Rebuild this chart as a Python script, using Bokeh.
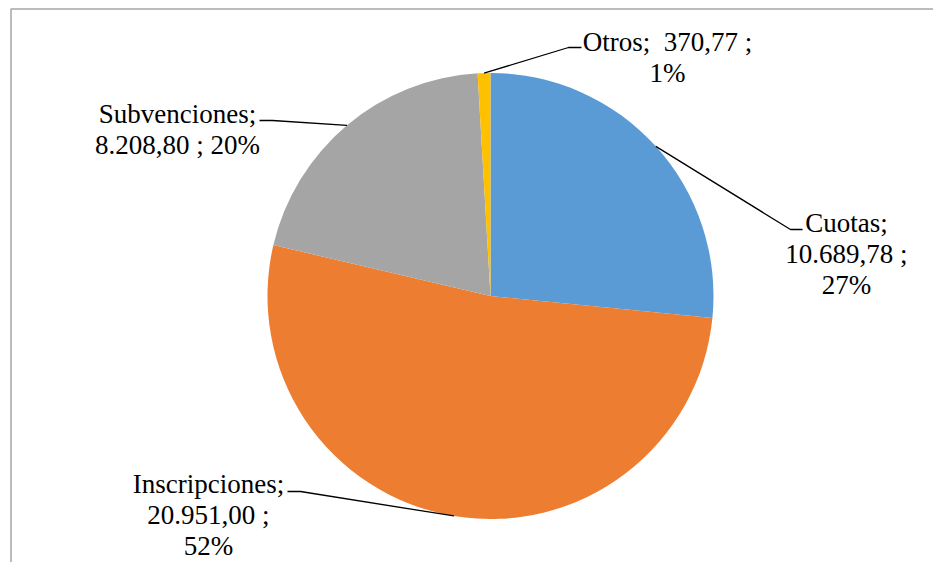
import math
from bokeh.plotting import figure
from bokeh.models import Range1d, ColumnDataSource
from bokeh.core.properties import value
from bokeh.embed import file_html
from bokeh.resources import INLINE

# ---- data ----
categories = ["Cuotas", "Inscripciones", "Subvenciones", "Otros"]
amounts = [10689.78, 20951.00, 8208.80, 370.77]
colors = ["#5B9BD5", "#ED7D31", "#A5A5A5", "#FFC000"]

# ---- layout (pixel coordinates, origin top-left of the figure) ----
W, H = 933, 562
def sy(y):
    return H - y

cx, cy, R = 490, 295.5, 223
label_x = [846, 208, 177, 667]
label_y0 = [222, 483, 113, 41]
line_h = 31.2
label_groups = [[[0], [1], [2]], [[0], [1], [2]], [[0], [1, 2]], [[0, 1], [2]]]
label_join = [" ", " ", " ", "\u00a0 "]
leader_elbow = [(790, 229), (300, 491), (272, 120), (568, 47)]
leader_end = [(802, 229), (287, 491), (259, 120), (581, 47)]

def fmt_es(v):
    s = f"{v:,.2f}"
    return s.replace(",", "X").replace(".", ",").replace("X", ".")

total = sum(amounts)
fracs = [a / total for a in amounts]

p = figure(width=W, height=H, output_backend="svg", toolbar_location=None,
           x_range=Range1d(0, W), y_range=Range1d(0, H),
           min_border=0, background_fill_color="white", border_fill_color="white")
p.axis.visible = False
p.grid.visible = False
p.outline_line_color = None

# frame (top and left edges visible)
p.line([10.5, 10.5, W + 5], [sy(H + 5), sy(8.5), sy(8.5)], line_color="#A6A6A6", line_width=1.5)

# wedges, clockwise from 12 o'clock
starts, ends, mids = [], [], []
cum = 0.0
for f in fracs:
    a0 = math.pi / 2 - cum * 2 * math.pi
    a1 = math.pi / 2 - (cum + f) * 2 * math.pi
    starts.append(a0)
    ends.append(a1)
    mids.append((a0 + a1) / 2)
    cum += f

src = ColumnDataSource(dict(start=starts, end=ends, color=colors, cat=categories, amt=amounts))
p.wedge(x=cx, y=sy(cy), radius=R, start_angle="start", end_angle="end", direction="clock",
        fill_color="color", line_color=None, source=src)

# leader lines
xs, ys = [], []
for i, m in enumerate(mids):
    x0 = cx + R * math.cos(m)
    y0 = cy - R * math.sin(m)
    ex, ey = leader_elbow[i]
    tx, ty = leader_end[i]
    xs.append([x0, ex, tx])
    ys.append([sy(y0), sy(ey), sy(ty)])
p.multi_line(xs, ys, line_color="black", line_width=1.3)

# labels
tx_, ty_, tt_ = [], [], []
for i, (c, a, f) in enumerate(zip(categories, amounts, fracs)):
    parts = [f"{c};", f"{fmt_es(a)} ;", f"{round(f * 100)}%"]
    for j, g in enumerate(label_groups[i]):
        tt_.append(label_join[i].join(parts[k] for k in g))
        tx_.append(label_x[i])
        ty_.append(sy(label_y0[i] + j * line_h))
p.text(x=tx_, y=ty_, text=tt_, text_font=value("Liberation Serif"), text_font_size="27px",
       text_align="center", text_baseline="middle", text_color="black")

open("out.html", "w").write(file_html(p, INLINE))
